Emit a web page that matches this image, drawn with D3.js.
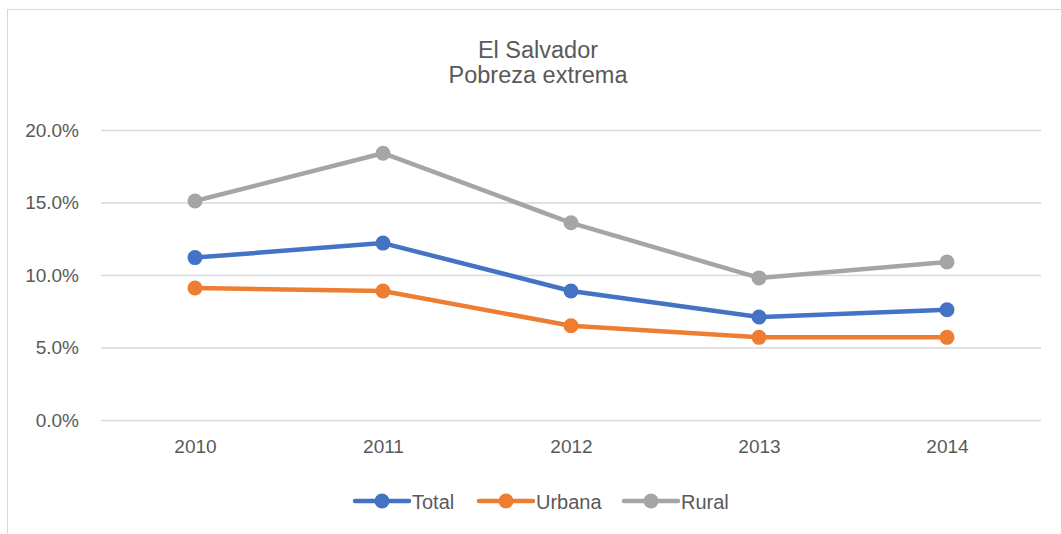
<!DOCTYPE html>
<html>
<head>
<meta charset="utf-8">
<script src="https://cdn.jsdelivr.net/npm/d3@7.9.0/dist/d3.min.js"></script>
<style>
  body { margin: 0; background: #fff; }
  text { font-family: "Liberation Sans", Arial, sans-serif; fill: #595959; }
</style>
</head>
<body>
<svg id="chart" width="1061" height="534"></svg>
<script>
// data
const years = ["2010", "2011", "2012", "2013", "2014"];
const total = [11.2, 12.2, 8.9, 7.1, 7.6];
const urbana = [9.1, 8.9, 6.5, 5.7, 5.7];
const rural = [15.1, 18.4, 13.6, 9.8, 10.9];
const yTicks = [0, 5, 10, 15, 20];

const series = [
  { name: "Total", values: total, color: "#4472c4" },
  { name: "Urbana", values: urbana, color: "#ed7d31" },
  { name: "Rural", values: rural, color: "#a5a5a5" },
];

const svg = d3.select("#chart");

// chart border
svg.append("rect")
  .attr("x", 7.5).attr("y", 9.5)
  .attr("width", 1100).attr("height", 600)
  .attr("fill", "none").attr("stroke", "#d9d9d9");

const plotLeft = 101, plotRight = 1041, plotTop = 130, plotBottom = 420;

let x = d3.scalePoint().domain(years).range([plotLeft, plotRight]).padding(0.5);
let y = d3.scaleLinear().domain([0, 20]).range([plotBottom, plotTop]);

// title
svg.append("text").attr("x", 538).attr("y", 58)
  .attr("text-anchor", "middle").style("font-size", "23.5px").text("El Salvador");
svg.append("text").attr("x", 538).attr("y", 83)
  .attr("text-anchor", "middle").style("font-size", "23.5px").text("Pobreza extrema");

// gridlines + y labels
let yAxis = d3.axisLeft(y).tickValues(yTicks)
  .tickSize(-(plotRight - plotLeft)).tickPadding(22)
  .tickFormat((d) => d.toFixed(1) + "%");
let gy = svg.append("g").attr("transform", `translate(${plotLeft},0)`).call(yAxis);
gy.select(".domain").remove();
gy.selectAll("line").attr("stroke", "#d9d9d9").attr("stroke-width", 1.5);
gy.selectAll("text").style("font-size", "19px");

// x labels
let xAxis = d3.axisBottom(x).tickSize(0).tickPadding(20);
let gx = svg.append("g").attr("transform", `translate(0,${plotBottom})`).call(xAxis);
gx.select(".domain").remove();
gx.selectAll("text").style("font-size", "19px");

let line = d3.line().x((d, i) => x(years[i])).y((d) => y(d));

series.forEach((s) => {
  svg.append("path")
    .attr("d", line(s.values))
    .attr("fill", "none")
    .attr("stroke", s.color)
    .attr("stroke-width", 4.5)
    .attr("stroke-linejoin", "round")
    .attr("stroke-linecap", "round");
  svg.selectAll(null).data(s.values).enter()
    .append("circle")
    .attr("cx", (d, i) => x(years[i]))
    .attr("cy", (d) => y(d))
    .attr("r", 7.5)
    .attr("fill", s.color);
});

// legend
const legendX = [355, 479, 624];
series.forEach((s, i) => {
  let g = svg.append("g").attr("transform", `translate(${legendX[i]},501)`);
  g.append("line").attr("x1", 0).attr("x2", 54)
    .attr("stroke", s.color).attr("stroke-width", 4.5).attr("stroke-linecap", "round");
  g.append("circle").attr("cx", 27).attr("r", 7.5).attr("fill", s.color);
  g.append("text").attr("x", 57).attr("y", 8)
    .style("font-size", "20px").text(s.name);
});
</script>
</body>
</html>
